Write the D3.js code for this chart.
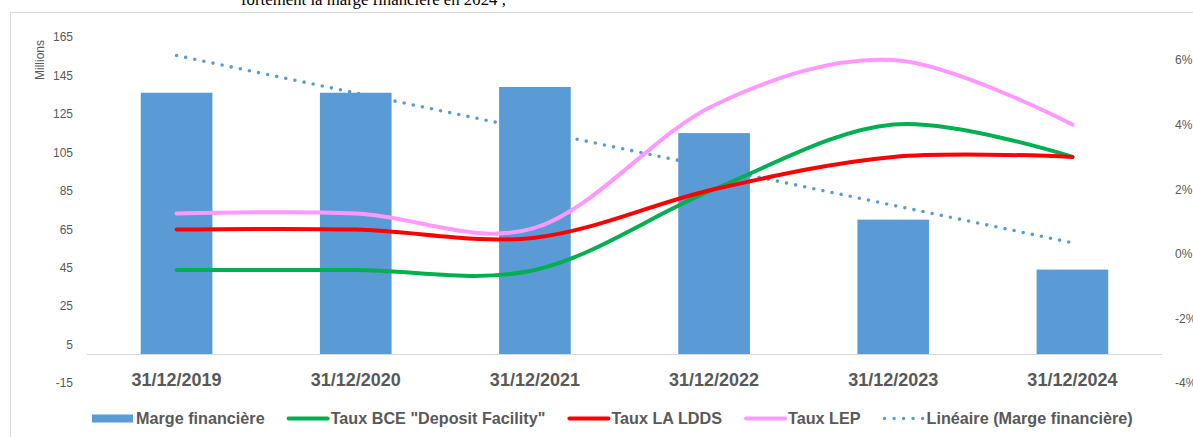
<!DOCTYPE html>
<html>
<head>
<meta charset="utf-8">
<script src="https://cdn.jsdelivr.net/npm/d3@7"></script>
<style>
  body { margin: 0; background: #fff; }
  svg text { font-family: "Liberation Sans", Arial, sans-serif; fill: #595959; }
</style>
</head>
<body>
<div id="chart"></div>
<script>
var dates = ["31/12/2019", "31/12/2020", "31/12/2021", "31/12/2022", "31/12/2023", "31/12/2024"];
var marge = [136, 136, 139, 115, 70, 44];          // millions
var tauxBce = [-0.5, -0.5, -0.5, 2, 4, 3];         // %
var tauxLdds = [0.75, 0.75, 0.5, 2, 3, 3];
var tauxLep = [1.25, 1.25, 0.8, 4.6, 6, 4];
var leftTicks = [165, 145, 125, 105, 85, 65, 45, 25, 5, -15];
var rightTicks = [6, 4, 2, 0, -2, -4];
var legendLabels = ["Marge financière", "Taux BCE \"Deposit Facility\"", "Taux LA LDDS", "Taux LEP", "Linéaire (Marge financière)"];

(function() {
  var width = 1193,
      height = 437;

  var svg = d3.select("#chart")
    .append("svg")
    .attr("width", width)
    .attr("height", height);

  // text of the page above the chart, cut by the screenshot
  svg.append("text")
    .attr("x", 241)
    .attr("y", 4.5)
    .style("font-family", "'Liberation Serif', 'Times New Roman', serif")
    .style("font-size", "16.8px")
    .style("fill", "#000")
    .text("fortement la marge financière en 2024 ;");

  // chart frame
  svg.append("path")
    .attr("d", "M10.5," + height + "V12.5H" + width)
    .attr("fill", "none")
    .attr("stroke", "#d9d9d9")
    .attr("stroke-width", 1);

  var x = d3.scaleBand()
    .domain(dates)
    .range([87, 1162])
    .paddingInner(0.6)
    .paddingOuter(0.3);

  var yLeft = d3.scaleLinear().domain([-15, 165]).range([383, 37]);
  var yRight = d3.scaleLinear().domain([-4, 6]).range([383, 60]);

  function cx(d) { return x(d) + x.bandwidth() / 2; }

  // linear trend of the bars
  var n = marge.length,
      mx = d3.mean(marge, function(d, i) { return i + 1; }),
      my = d3.mean(marge),
      sxy = d3.sum(marge, function(d, i) { return (i + 1 - mx) * (d - my); }),
      sxx = d3.sum(marge, function(d, i) { return (i + 1 - mx) * (i + 1 - mx); }),
      slope = sxy / sxx,
      icpt = my - slope * mx;
  var trend = dates.map(function(d, i) { return { date: d, v: icpt + slope * (i + 1) }; });

  svg.append("path")
    .datum([trend[0], trend[n - 1]])
    .attr("d", d3.line()
      .x(function(d) { return cx(d.date); })
      .y(function(d) { return yLeft(d.v); }))
    .attr("fill", "none")
    .attr("stroke", "#5b9bd5")
    .attr("stroke-width", 3.6)
    .attr("stroke-linecap", "round")
    .attr("stroke-dasharray", "0,9.3");

  svg.selectAll(".bar")
    .data(marge)
    .enter().append("rect")
    .attr("class", "bar")
    .attr("x", function(d, i) { return x(dates[i]); })
    .attr("width", x.bandwidth())
    .attr("y", function(d) { return yLeft(d); })
    .attr("height", function(d) { return yLeft(0) - yLeft(d); })
    .attr("fill", "#5b9bd5");

  // category axis line
  svg.append("line")
    .attr("x1", 87).attr("x2", 1162)
    .attr("y1", Math.round(yLeft(0)) + 0.5).attr("y2", Math.round(yLeft(0)) + 0.5)
    .attr("stroke", "#d9d9d9");

  var series = [
    { values: tauxBce, color: "#00b050" },
    { values: tauxLdds, color: "#ff0000" },
    { values: tauxLep, color: "#ff99ff" }
  ];

  var line = d3.line()
    .x(function(d, i) { return cx(dates[i]); })
    .y(function(d) { return yRight(d); })
    .curve(d3.curveCatmullRom.alpha(0));

  // LEP drawn first, then BCE, then LDDS on top
  [series[2], series[0], series[1]].forEach(function(s) {
    svg.append("path")
      .datum(s.values)
      .attr("d", line)
      .attr("fill", "none")
      .attr("stroke", s.color)
      .attr("stroke-width", 4)
      .attr("stroke-linecap", "round");
  });

  // axes
  var gl = svg.append("g")
    .attr("transform", "translate(87,0)")
    .call(d3.axisLeft(yLeft).tickValues(leftTicks).tickSize(0).tickPadding(14)
      .tickFormat(function(d) { return String(d); }));
  gl.select(".domain").remove();
  gl.selectAll("text").style("font-size", "12px").style("font-family", null);

  var gr = svg.append("g")
    .attr("transform", "translate(1162,0)")
    .call(d3.axisRight(yRight).tickValues(rightTicks).tickSize(0).tickPadding(13)
      .tickFormat(function(d) { return String(d) + "%"; }));
  gr.select(".domain").remove();
  gr.selectAll("text").style("font-size", "12px").style("font-family", null);

  var gb = svg.append("g")
    .attr("transform", "translate(0," + yLeft(0) + ")")
    .call(d3.axisBottom(x).tickSize(0).tickPadding(19.5));
  gb.select(".domain").remove();
  gb.selectAll("text").style("font-size", "18px").style("font-weight", "bold").style("font-family", null);

  svg.append("text")
    .attr("transform", "translate(44,60)rotate(-90)")
    .attr("text-anchor", "middle")
    .style("font-size", "12px")
    .text("Millions");

  // legend
  var lx = 92, ly = 418.5;
  legendLabels.forEach(function(label, i) {
    var g = svg.append("g").attr("transform", "translate(" + lx + "," + ly + ")");
    if (i === 0) {
      g.append("rect").attr("x", 0).attr("y", -4).attr("width", 41).attr("height", 8).attr("fill", "#5b9bd5");
    } else if (i < 4) {
      g.append("line").attr("x1", 2).attr("x2", 41).attr("y1", 0).attr("y2", 0)
        .attr("stroke", series[i - 1].color).attr("stroke-width", 4).attr("stroke-linecap", "round");
    } else {
      g.append("line").attr("x1", 2).attr("x2", 41).attr("y1", 0).attr("y2", 0)
        .attr("stroke", "#5b9bd5").attr("stroke-width", 3.4).attr("stroke-linecap", "round")
        .attr("stroke-dasharray", "0,9.5");
    }
    var t = g.append("text")
      .attr("x", 44)
      .attr("dy", "0.35em")
      .style("font-size", "16.2px")
      .style("font-weight", "bold")
      .text(label);
    lx += 44 + t.node().getComputedTextLength() + 22;
  });
})();
</script>
</body>
</html>
